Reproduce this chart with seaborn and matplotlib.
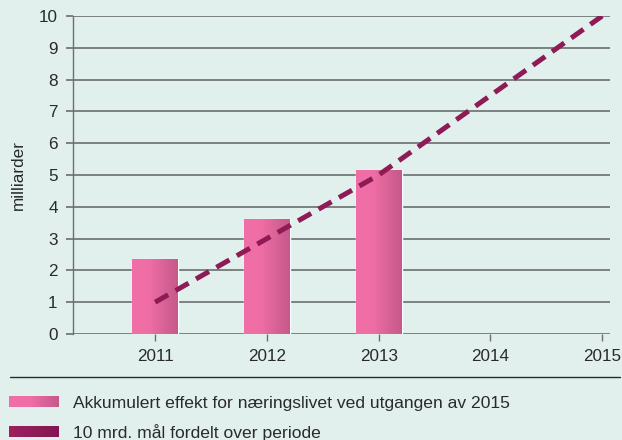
import numpy as np
import matplotlib
matplotlib.use("Agg")
import matplotlib.pyplot as plt
import matplotlib.colors as mcolors
from matplotlib.patches import Rectangle
from matplotlib.lines import Line2D
from matplotlib.legend_handler import HandlerBase
import seaborn as sns

# data
years = [2011, 2012, 2013]
effekt = [2.35, 3.62, 5.16]
target_years = [2011, 2012, 2013, 2014, 2015]
target = [1.0, 3.0, 5.0, 7.5, 10.0]
xtick_labels = ["2011", "2012", "2013", "2014", "2015"]
bar_label = "Akkumulert effekt for næringslivet ved utgangen av 2015"
line_label = "10 mrd. mål fordelt over periode"

BG = "#e1f0ec"
PINK_L, PINK_R = "#f06ea6", "#c6598a"
MAROON = "#8e1a56"
DARK_L, DARK_R = "#9b205f", "#82174f"
GRID = "#6b6f70"
TXT = "#2a2a2a"
FS = 12.3
LFS = 12.6


def blend(c0, c1, t):
    a = np.array(mcolors.to_rgb(c0))
    b = np.array(mcolors.to_rgb(c1))
    return tuple(a + (b - a) * t)


class GradientHandler(HandlerBase):
    def __init__(self, c0, c1, flat=0.0, n=24):
        super().__init__()
        self.c0, self.c1, self.flat, self.n = c0, c1, flat, n

    def create_artists(self, legend, orig_handle, xdescent, ydescent,
                       width, height, fontsize, trans):
        out = []
        for i in range(self.n):
            t = max(0.0, (i / (self.n - 1) - self.flat) / (1 - self.flat))
            r = Rectangle((-xdescent + width * i / self.n, -ydescent),
                          width / self.n * 1.1, height,
                          facecolor=blend(self.c0, self.c1, t),
                          edgecolor="none", transform=trans)
            out.append(r)
        return out


sns.set_style("white")
plt.rcParams["font.family"] = ["Liberation Sans", "DejaVu Sans"]

fig = plt.figure(figsize=(6.22, 4.4), dpi=100, facecolor=BG)
ax = fig.add_axes([73 / 622, 1 - 334 / 440, (610 - 73) / 622, (334 - 16) / 440])
ax.set_facecolor(BG)

sns.barplot(x=years, y=effekt, native_scale=True, width=0.41,
            color=PINK_L, saturation=1, ax=ax, zorder=3)

# horizontal gradient inside each bar
grad = np.linspace(0, 1, 100)
grad = np.clip((grad - 0.35) / 0.65, 0, 1)[None, :]
cmap = mcolors.LinearSegmentedColormap.from_list("pk", [PINK_L, PINK_R])
for p in ax.patches:
    x0, y0 = p.get_x(), p.get_y()
    w, h = p.get_width(), p.get_height()
    im = ax.imshow(grad, cmap=cmap, aspect="auto", extent=(x0, x0 + w, y0, y0 + h),
                   zorder=3.5, interpolation="bilinear")
    im.set_clip_path(p)

sns.lineplot(x=target_years, y=target, color=MAROON, lw=3.6, ax=ax, zorder=5)
ax.lines[-1].set_dashes((3.0, 1.7))
ax.lines[-1].set_solid_capstyle("butt")

ax.set_xlim(2010.265, 2015.07)
ax.set_ylim(0, 10)
ax.set_aspect("auto")
ax.set_xticks(target_years)
ax.set_xticklabels(xtick_labels)
ax.set_yticks(range(0, 11))

ax.yaxis.grid(True, color=GRID, lw=1.2, zorder=0)
ax.set_axisbelow(True)
for s in ["top", "right", "bottom"]:
    ax.spines[s].set_visible(False)
ax.spines["left"].set_color(GRID)
ax.spines["left"].set_linewidth(1.0)

ax.tick_params(axis="y", length=5, width=1.2, color=GRID, labelsize=FS,
               labelcolor=TXT, pad=6, left=True)
ax.tick_params(axis="x", length=5, width=1.0, color=GRID, labelsize=FS,
               labelcolor=TXT, pad=6, bottom=True)
ax.set_xlabel("")
ax.set_ylabel("milliarder", fontsize=FS, color=TXT, labelpad=9)

# separator
fig.add_artist(Line2D([10 / 622, 620 / 622], [1 - 377 / 440, 1 - 377 / 440],
                      color=TXT, lw=1.0, transform=fig.transFigure))

h1 = Rectangle((0, 0), 1, 1)
h2 = Rectangle((0, 0), 1, 1)
fpx = LFS * 100 / 72
fig.legend([h1, h2], [bar_label, line_label],
           handler_map={h1: GradientHandler(PINK_L, PINK_R, flat=0.4),
                        h2: GradientHandler(DARK_L, DARK_R)},
           loc="upper left", bbox_to_anchor=(9 / 622, 1 - 396 / 440),
           frameon=False, fontsize=LFS, handlelength=50 / fpx, handleheight=10 / fpx,
           handletextpad=14 / fpx, labelspacing=0.72, borderpad=0, borderaxespad=0,
           labelcolor=TXT)

fig.savefig("out.png", dpi=100, facecolor=BG)
